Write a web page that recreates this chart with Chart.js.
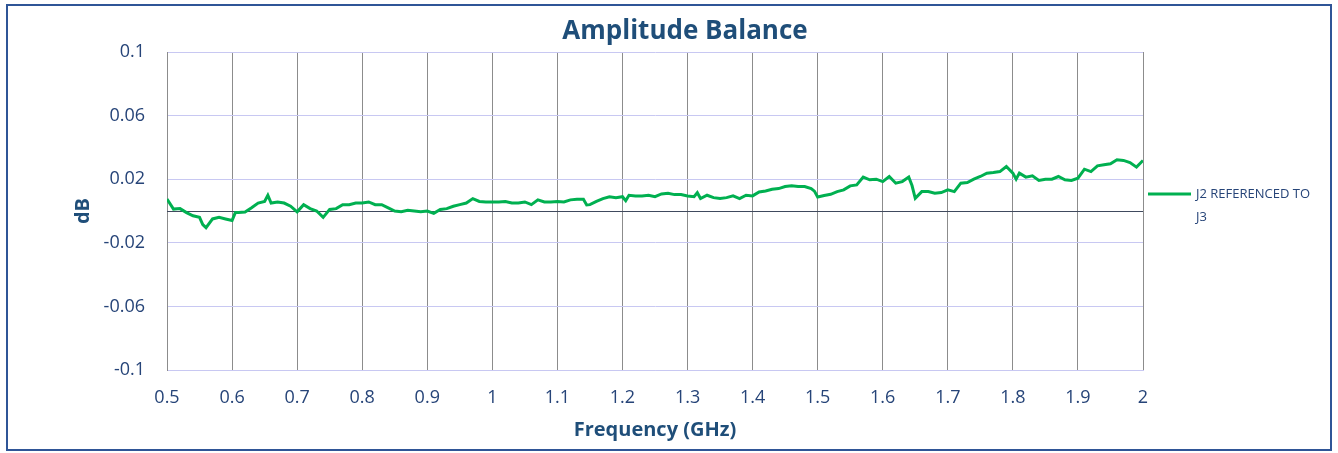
<!DOCTYPE html>
<html>
<head>
<meta charset="utf-8">
<script src="https://cdn.jsdelivr.net/npm/chart.js@4"></script>
<style>
  html, body { margin: 0; padding: 0; background: #fff; }
  #wrap { width: 1338px; height: 453px; position: relative; }
</style>
</head>
<body>
<div id="wrap"><canvas id="myChart"></canvas></div>
<script>
const freqGHz = [
  0.50, 0.51, 0.52, 0.53, 0.54, 0.55, 0.555, 0.56, 0.57, 0.58, 0.59,
  0.60, 0.605, 0.61, 0.62, 0.63, 0.64, 0.65, 0.655, 0.66, 0.67, 0.68, 0.69,
  0.70, 0.71, 0.72, 0.73, 0.74, 0.75, 0.76, 0.77, 0.78, 0.79,
  0.80, 0.81, 0.82, 0.83, 0.84, 0.85, 0.86, 0.87, 0.88, 0.89,
  0.90, 0.91, 0.92, 0.93, 0.94, 0.95, 0.96, 0.97, 0.98, 0.99,
  1.00, 1.01, 1.02, 1.03, 1.04, 1.05, 1.06, 1.07, 1.08, 1.09,
  1.10, 1.11, 1.12, 1.13, 1.14, 1.145, 1.15, 1.16, 1.17, 1.18, 1.19,
  1.20, 1.205, 1.21, 1.22, 1.23, 1.24, 1.25, 1.26, 1.27, 1.28, 1.29,
  1.30, 1.31, 1.315, 1.32, 1.33, 1.34, 1.35, 1.36, 1.37, 1.38, 1.39,
  1.40, 1.41, 1.42, 1.43, 1.44, 1.45, 1.46, 1.47, 1.48, 1.49, 1.495,
  1.50, 1.51, 1.52, 1.53, 1.54, 1.55, 1.56, 1.57, 1.58, 1.59,
  1.60, 1.61, 1.62, 1.63, 1.64, 1.645, 1.65, 1.66, 1.67, 1.68, 1.69,
  1.70, 1.71, 1.72, 1.73, 1.74, 1.75, 1.76, 1.77, 1.78, 1.79,
  1.80, 1.805, 1.81, 1.82, 1.83, 1.84, 1.85, 1.86, 1.87, 1.88, 1.89,
  1.90, 1.91, 1.92, 1.93, 1.94, 1.95, 1.96, 1.97, 1.98, 1.99, 2.00
];

const balanceDb = [
  0.0075, 0.0012, 0.0015, -0.0010, -0.0030, -0.0040, -0.0085, -0.0105, -0.0050, -0.0040, -0.0050,
  -0.0060, -0.0010, -0.0010, -0.0006, 0.0020, 0.0050, 0.0060, 0.0099, 0.0050, 0.0057, 0.0050, 0.0030,
  -0.0005, 0.0040, 0.0015, 0.0000, -0.0040, 0.0010, 0.0015, 0.0040, 0.0040, 0.0050,
  0.0050, 0.0057, 0.0040, 0.0040, 0.0020, 0.0000, -0.0004, 0.0004, 0.0000, -0.0004,
  0.0000, -0.0015, 0.0010, 0.0015, 0.0030, 0.0040, 0.0050, 0.0078, 0.0060, 0.0057,
  0.0057, 0.0057, 0.0060, 0.0050, 0.0050, 0.0057, 0.0040, 0.0070, 0.0057, 0.0057,
  0.0059, 0.0057, 0.0070, 0.0074, 0.0074, 0.0038, 0.0040, 0.0060, 0.0078, 0.0090, 0.0084,
  0.0090, 0.0065, 0.0099, 0.0095, 0.0095, 0.0099, 0.0090, 0.0107, 0.0112, 0.0103, 0.0103,
  0.0095, 0.0090, 0.0115, 0.0078, 0.0099, 0.0084, 0.0078, 0.0084, 0.0095, 0.0078, 0.0099,
  0.0095, 0.0120, 0.0126, 0.0137, 0.0141, 0.0154, 0.0158, 0.0154, 0.0154, 0.0141, 0.0125,
  0.0088, 0.0098, 0.0105, 0.0122, 0.0133, 0.0158, 0.0164, 0.0213, 0.0196, 0.0200,
  0.0185, 0.0217, 0.0175, 0.0185, 0.0213, 0.0160, 0.0080, 0.0122, 0.0122, 0.0112, 0.0116,
  0.0133, 0.0122, 0.0175, 0.0179, 0.0200, 0.0217, 0.0238, 0.0242, 0.0248, 0.0280,
  0.0238, 0.0200, 0.0238, 0.0213, 0.0221, 0.0192, 0.0200, 0.0200, 0.0217, 0.0196, 0.0192,
  0.0206, 0.0263, 0.0248, 0.0284, 0.0291, 0.0297, 0.0322, 0.0318, 0.0305, 0.0276, 0.0318
];

const seriesLabel = ['J2 REFERENCED TO', 'J3'];
const chartTitle = 'Amplitude Balance';

const navy = '#1F4E79';
const tickColor = '#264478';
const fontFamily = '"Open Sans", "DejaVu Sans", sans-serif';

// white background, outer frame and the title centred on the whole page
const frame = {
  id: 'frame',
  beforeDraw(chart) {
    const c = chart.ctx;
    c.save();
    c.fillStyle = '#fff';
    c.fillRect(0, 0, chart.width, chart.height);
    c.strokeStyle = '#2F5597';
    c.lineWidth = 2;
    c.strokeRect(7, 5, chart.width - 14, chart.height - 8);
    c.fillStyle = navy;
    c.font = 'bold 26px ' + fontFamily;
    c.textAlign = 'center';
    c.textBaseline = 'middle';
    c.fillText(chartTitle, chart.width / 2 + 16, 32);
    c.restore();
  }
};

const zeroLine = {
  id: 'zeroLine',
  beforeDatasetsDraw(chart) {
    const {ctx: c, chartArea: a, scales} = chart;
    const y = Math.round(scales.y.getPixelForValue(0)) + 0.5;
    c.save();
    c.strokeStyle = '#404A5E';
    c.lineWidth = 1;
    c.beginPath();
    c.moveTo(a.left, y);
    c.lineTo(a.right, y);
    c.stroke();
    c.restore();
  }
};

const sideLegend = {
  id: 'sideLegend',
  afterDraw(chart) {
    const {ctx: c, chartArea: a} = chart;
    const x = a.right + 5;
    const y = 194;
    c.save();
    c.strokeStyle = '#00B050';
    c.lineWidth = 3;
    c.beginPath();
    c.moveTo(x, y);
    c.lineTo(x + 43, y);
    c.stroke();
    c.fillStyle = tickColor;
    c.font = '13px ' + fontFamily;
    c.textBaseline = 'middle';
    seriesLabel.forEach((t, i) => c.fillText(t, x + 48, y + i * 23));
    c.restore();
  }
};

const ctx = document.getElementById('myChart');

new Chart(ctx, {
  type: 'line',
  data: {
    datasets: [
      {
        label: seriesLabel.join(' '),
        data: freqGHz.map((f, i) => ({x: f, y: balanceDb[i]})),
        borderColor: '#00B050',
        backgroundColor: '#00B050',
        borderWidth: 3,
        pointRadius: 0,
        tension: 0,
      }
    ]
  },
  options: {
    responsive: true,
    maintainAspectRatio: false,
    animation: false,
    layout: {
      padding: {left: 0, right: 195, top: 52, bottom: 0}
    },
    plugins: {
      legend: {display: false},
      tooltip: {enabled: false},
      title: {display: false}
    },
    scales: {
      x: {
        type: 'linear',
        min: 0.5,
        max: 2,
        afterFit(scale) { scale.height = 83; },
        ticks: {
          stepSize: 0.1,
          color: tickColor,
          padding: 17,
          maxRotation: 0,
          autoSkip: false,
          font: {family: fontFamily, size: 18},
          callback: v => String(Math.round(v * 10) / 10),
        },
        grid: {color: '#8C8C8C', drawTicks: false},
        border: {color: '#C8C8F2'},
        title: {
          display: true,
          text: 'Frequency (GHz)',
          color: navy,
          font: {family: fontFamily, size: 20, weight: 'bold'},
          padding: {top: 0, bottom: 11},
        }
      },
      y: {
        min: -0.1,
        max: 0.1,
        afterFit(scale) { scale.width = 167; },
        ticks: {
          stepSize: 0.04,
          color: tickColor,
          padding: 22,
          font: {family: fontFamily, size: 18},
          callback: v => String(Math.round(v * 100) / 100),
        },
        grid: {color: '#C8C8F2', drawTicks: false},
        border: {color: '#8C8C8C'},
        title: {
          display: true,
          text: 'dB',
          color: navy,
          font: {family: fontFamily, size: 20, weight: 'bold'},
          padding: {top: 71, bottom: 0},
        }
      }
    }
  },
  plugins: [frame, zeroLine, sideLegend]
});
</script>
</body>
</html>
